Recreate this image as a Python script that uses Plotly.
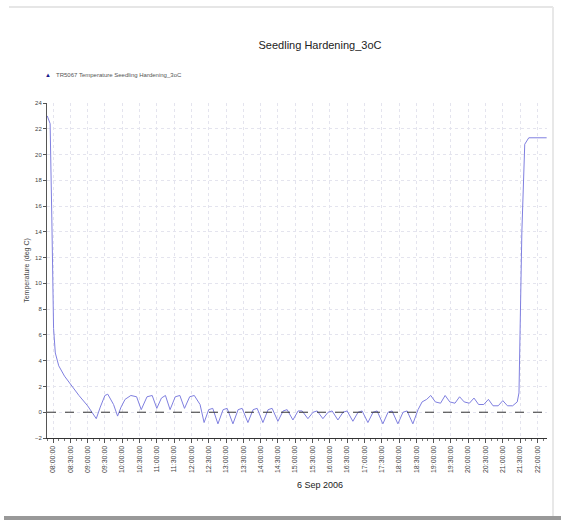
import plotly.graph_objects as go
import pandas as pd

# ---- data ----
day = "2006-09-06 "
times = ["07:50", "07:53", "07:55", "07:58", "08:01", "08:04", "08:10", "08:20", "08:30", "08:45",
         "09:00", "09:10", "09:15", "09:22", "09:30", "09:35", "09:45", "09:52", "09:58", "10:05",
         "10:15", "10:25", "10:33", "10:43", "10:52", "11:00", "11:08", "11:15", "11:23", "11:32",
         "11:40", "11:48", "11:57", "12:05", "12:15", "12:22", "12:30", "12:37", "12:46", "12:55",
         "13:02", "13:12", "13:21", "13:28", "13:38", "13:47", "13:54", "14:04", "14:13", "14:20",
         "14:30", "14:39", "14:46", "14:56", "15:05", "15:12", "15:22", "15:31", "15:38", "15:48",
         "15:57", "16:04", "16:14", "16:23", "16:30", "16:40", "16:49", "16:56", "17:06", "17:15",
         "17:22", "17:32", "17:41", "17:48", "17:58", "18:07", "18:14", "18:24", "18:33", "18:40",
         "18:48", "18:55", "19:03", "19:12", "19:20", "19:28", "19:37", "19:45", "19:53", "20:02",
         "20:10", "20:18", "20:27", "20:35", "20:43", "20:52", "21:00", "21:08", "21:17", "21:25",
         "21:28", "21:33", "21:38", "21:45", "22:16"]
temps = [23.0, 22.6, 22.4, 15.0, 6.5, 4.6, 3.6, 2.8, 2.2, 1.3,
         0.5, -0.2, -0.5, 0.4, 1.3, 1.4, 0.6, -0.3, 0.4, 1.0,
         1.3, 1.2, 0.2, 1.2, 1.3, 0.3, 1.1, 1.3, 0.2, 1.2,
         1.3, 0.3, 1.2, 1.3, 0.6, -0.8, 0.2, 0.3, -0.9, 0.2,
         0.3, -0.9, 0.2, 0.3, -0.8, 0.2, 0.3, -0.8, 0.2, 0.3,
         -0.7, 0.1, 0.2, -0.6, 0.1, 0.1, -0.5, 0.0, 0.1, -0.5,
         0.0, 0.1, -0.6, 0.0, 0.1, -0.7, 0.0, 0.1, -0.8, 0.0,
         0.1, -0.9, 0.0, 0.1, -0.9, 0.0, 0.1, -0.9, 0.2, 0.8,
         1.0, 1.3, 0.8, 0.7, 1.3, 0.8, 0.7, 1.2, 0.8, 0.7,
         1.1, 0.6, 0.6, 1.0, 0.5, 0.5, 0.9, 0.5, 0.5, 0.8,
         1.5, 14.0, 20.8, 21.3, 21.3]
reference_level = 0
x_start, x_end = "07:49:36", "22:16:36"
first_tick = "08:00"
series_name = "TR5067 Temperature Seedling Hardening_3oC"
chart_title = "Seedling Hardening_3oC"
x_title = "6 Sep 2006"
y_title = "Temperature (deg C)"

x = pd.to_datetime([day + t for t in times])

FONT = "Liberation Sans Narrow, Liberation Sans, Arial"
LINE = "#7f7fe0"

# plot area in window pixels: x 47..547, y 103..438
L, R, T, B = 47, 547, 103, 438
W, H = 561, 523


def px(v):
    return (v - L) / (R - L)


def py(v):
    return (B - v) / (B - T)


fig = go.Figure()
fig.add_trace(go.Scatter(x=x, y=temps, mode="lines", line=dict(color=LINE, width=1),
                         name=series_name, showlegend=False))
fig.add_hline(y=reference_level, line=dict(color="#333333", width=1, dash="dash"))

fig.update_layout(
    width=W, height=H,
    margin=dict(l=L, r=W - R, t=T, b=H - B),
    paper_bgcolor="white", plot_bgcolor="white",
    font=dict(family=FONT, size=7, color="#444444"),
    title=dict(text=chart_title, x=320 / W, xanchor="center", y=1 - 45 / H, yanchor="middle",
               font=dict(family=FONT, size=11, color="#222222")),
    xaxis=dict(range=[day + x_start, day + x_end], type="date",
               tick0=day + first_tick, dtick=30 * 60 * 1000, tickformat="%H:%M:%S",
               tickangle=-90, showgrid=True, gridcolor="#e4e4ee", griddash="dot",
               showline=True, linecolor="#333333", linewidth=1,
               ticks="outside", ticklen=4, tickcolor="#555555",
               minor=dict(dtick=10 * 60 * 1000, ticks="outside", ticklen=2, tickcolor="#777777"),
               tickfont=dict(size=7, color="#444444"), zeroline=False),
    yaxis=dict(range=[-2, 24], dtick=2, showgrid=True, gridcolor="#e4e4ee", griddash="dot",
               showline=True, linecolor="#555555", linewidth=1, ticks="outside", ticklen=3,
               tickcolor="#555555", zeroline=False,
               title=dict(text=y_title, font=dict(size=7, color="#444444"), standoff=4),
               tickfont=dict(size=6, color="#444444")),
    annotations=[
        dict(text=x_title, xref="paper", yref="paper", x=px(320), y=py(485), showarrow=False,
             xanchor="center", yanchor="middle", font=dict(family=FONT, size=9, color="#222222")),
        dict(text="▲", xref="paper", yref="paper", x=px(48), y=py(75), showarrow=False,
             xanchor="center", yanchor="middle", font=dict(size=6, color="#1a1a8c")),
        dict(text=series_name, xref="paper", yref="paper", x=px(54), y=py(75), showarrow=False,
             xanchor="left", yanchor="middle", font=dict(family=FONT, size=6, color="#555555")),
    ],
    shapes=[
        # window frame around the chart
        dict(type="rect", xref="paper", yref="paper", x0=px(4), x1=px(9),
             y0=py(12), y1=py(516), fillcolor="#999999", line=dict(width=0), layer="above"),
        dict(type="rect", xref="paper", yref="paper", x0=px(4), x1=px(561),
             y0=py(516), y1=py(520), fillcolor="#999999", line=dict(width=0), layer="above"),
        dict(type="line", xref="paper", yref="paper", x0=px(9), x1=px(553),
             y0=py(7), y1=py(7), line=dict(color="#e6e6e6", width=2), layer="above"),
        dict(type="line", xref="paper", yref="paper", x0=px(553), x1=px(553),
             y0=py(7), y1=py(516), line=dict(color="#e8e8e8", width=2), layer="above"),
    ],
)

fig.write_html("out.html", config={"displayModeBar": False},
               post_script="document.body.style.margin='0';")
